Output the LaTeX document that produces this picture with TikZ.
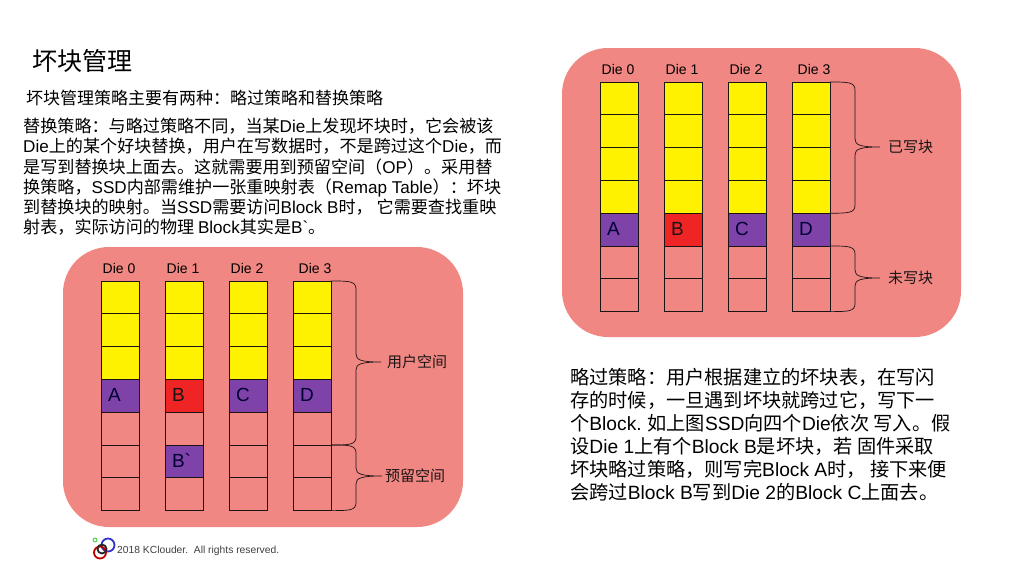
\documentclass[tikz,border=0pt]{standalone}
\usepackage{fontspec}
\usepackage{xcolor}
\usepackage{tikz}
\usetikzlibrary{positioning,calc}
\setmainfont{Noto Sans CJK SC}
\newfontfamily\latinfont{Liberation Sans}
\newcommand{\lat}[1]{{\latinfont #1}}
\definecolor{panelred}{HTML}{F08783}
\definecolor{goodviolet}{HTML}{7F42A9}
\definecolor{badred}{HTML}{EE2524}
\definecolor{inkdark}{HTML}{1A1414}

% columns of one panel: prefix, left x, top y, yellow rows
\newcommand{\diecolumns}[4]{
    \foreach \c/\letter/\tone in {0/A/goodcell,1/B/badcell,2/C/goodcell,3/D/goodcell} {
        \pgfmathtruncatemacro{\letterrow}{#4+1}
        \pgfmathtruncatemacro{\freerow}{#4+2}
        \foreach \r in {1,...,#4}
            \node [cell, usedcell] (#1-\c-\r) at (#2+64*\c+19, #3+32.8*\r-16.4) {};
        \node [cell, \tone] (#1-\c-\letterrow) at (#2+64*\c+19, #3+32.8*\letterrow-16.4) {\lat{\letter}};
        \foreach \r in {\freerow,...,7}
            \node [cell] (#1-\c-\r) at (#2+64*\c+19, #3+32.8*\r-16.4) {};
    }
}
% curly bracket from one cell corner to another, with its tip at a coordinate
\newcommand{\diebrace}[3]{
    \draw [bracket] let \p1=(#1), \p2=(#2), \p3=(#3) in
        (#1) .. controls (\x1+18pt,\y1) and (\x1+25pt,\y1) .. (\x1+25pt,\y1-8pt)
        -- (\x1+25pt,\y3+8pt) .. controls (\x1+25pt,\y3+2pt) and (\x1+30pt,\y3) .. (#3)
        .. controls (\x1+30pt,\y3) and (\x1+25pt,\y3-2pt) .. (\x1+25pt,\y3-8pt)
        -- (\x1+25pt,\y2+8pt) .. controls (\x1+25pt,\y2) and (\x1+18pt,\y2) .. (#2);
}

\begin{document}
\begin{tikzpicture}[
    x=1pt,
    y=-1pt,
    panel/.style={
        rectangle,
        fill=panelred,
        rounded corners=46pt,
        inner sep=0pt,
        outer sep=0pt
    },
    cell/.style={
        rectangle,
        draw=inkdark,
        line width=0.7pt,
        minimum width=38pt,
        minimum height=32.8pt,
        text width=24pt,
        text depth=2pt,
        align=left,
        inner sep=0pt,
        outer sep=0pt,
        text=inkdark,
        font=\fontsize{19}{20}\selectfont
    },
    usedcell/.style={fill=yellow},
    goodcell/.style={fill=goodviolet, text=black!80!blue},
    badcell/.style={fill=badred},
    dielabel/.style={inner sep=0pt, font=\fontsize{14}{16}\selectfont},
    spacelabel/.style={inner sep=0pt, text=inkdark, font=\fontsize{15}{16}\selectfont},
    bracket/.style={draw=inkdark, line width=0.7pt},
    para/.style={anchor=west, align=left, inner sep=0pt, text=black},
    ring/.style={circle, draw, line width=1.8pt, inner sep=0pt, outer sep=0pt}
]
    \useasboundingbox [fill=white] (0,0) rectangle (1024,576);

    % Panels
    \node [panel, minimum width=400pt, minimum height=280pt] (leftpanel) at (263,387) {};
    \node [panel, minimum width=399pt, minimum height=289pt] (rightpanel) at (761.5,192.5) {};

    % Cells
    \diecolumns{l}{101}{281}{3}
    \diecolumns{r}{600}{82}{4}
    \node [cell, goodcell] (bprime) at (l-1-6) {\lat{B`}};

    % Die names
    \foreach \c/\shift in {0/-1,1/-1,2/-1,3/3} {
        \node [dielabel, above=7pt of l-\c-1.north, xshift=\shift] (ldie\c) {\lat{Die \c}};
        \node [dielabel, above=7pt of r-\c-1.north, xshift=\shift] (rdie\c) {\lat{Die \c}};
    }

    % Brackets
    \coordinate (usertip) at (381,362);
    \coordinate (sparetip) at (382,476);
    \coordinate (writtentip) at (880,147);
    \coordinate (blanktip) at (880,278);
    \node [spacelabel, right=6pt of usertip] (userspace) {用户空间};
    \node [spacelabel, right=3pt of sparetip] (sparespace) {预留空间};
    \node [spacelabel, right=8pt of writtentip] (written) {已写块};
    \node [spacelabel, right=8pt of blanktip] (blank) {未写块};
    \diebrace{l-3-1.north east}{l-3-5.south east}{usertip}
    \diebrace{l-3-6.north east}{l-3-7.south east}{sparetip}
    \diebrace{r-3-1.north east}{r-3-4.south east}{writtentip}
    \diebrace{r-3-6.north east}{r-3-7.south east}{blanktip}

    % Text
    \node [para, font=\fontsize{25}{28}\selectfont] (title) at (32,61) {坏块管理};
    \node [para, font=\fontsize{17}{20}\selectfont] (intro) at (26,98) {坏块管理策略主要有两种：略过策略和替换策略};
    \node [para, anchor=north west, font=\fontsize{17.1}{20.2}\selectfont] (replacetext) at (23,118) {
        替换策略：与略过策略不同，当某\lat{Die}上发现坏块时，它会被该\\
        \lat{Die}上的某个好块替换，用户在写数据时，不是跨过这个\lat{Die}，而\\
        是写到替换块上面去。这就需要用到预留空间（\lat{OP}）。采用替\\
        换策略，\lat{SSD}内部需维护一张重映射表（\lat{Remap Table}）：坏块\\
        到替换块的映射。当\lat{SSD}需要访问\lat{Block B}时， 它需要查找重映\\
        射表，实际访问的物理 \lat{Block}其实是\lat{B`}。};
    \node [para, anchor=north west, font=\fontsize{19.2}{23}\selectfont] (skiptext) at (570,368) {
        略过策略：用户根据建立的坏块表，在写闪\\
        存的时候，一旦遇到坏块就跨过它，写下一\\
        个\lat{Block.} 如上图\lat{SSD}向四个\lat{Die}依次 写入。假\\
        设\lat{Die 1}上有个\lat{Block B}是坏块，若 固件采取\\
        坏块略过策略，则写完\lat{Block A}时， 接下来便\\
        会跨过\lat{Block B}写到\lat{Die 2}的\lat{Block C}上面去。};

    % Logo
    \node [ring, draw=blue!60!gray, minimum size=13pt] (logoblue) at (108,545) {};
    \node [ring, draw=red!75!black, minimum size=12pt] (logored) at (100,552.5) {};
    \node [ring, draw=black!85, minimum size=9pt] (logoblack) at (102,549) {};
    \node [ring, draw=green!55!gray, line width=0.8pt, minimum size=4pt] (logogreen) at (95,540) {};
    \node [para, text=black!75, font=\fontsize{10.3}{12}\selectfont\latinfont] (copyright) at (117,551) {2018 KClouder.\ \ All rights reserved.};
\end{tikzpicture}
\end{document}
